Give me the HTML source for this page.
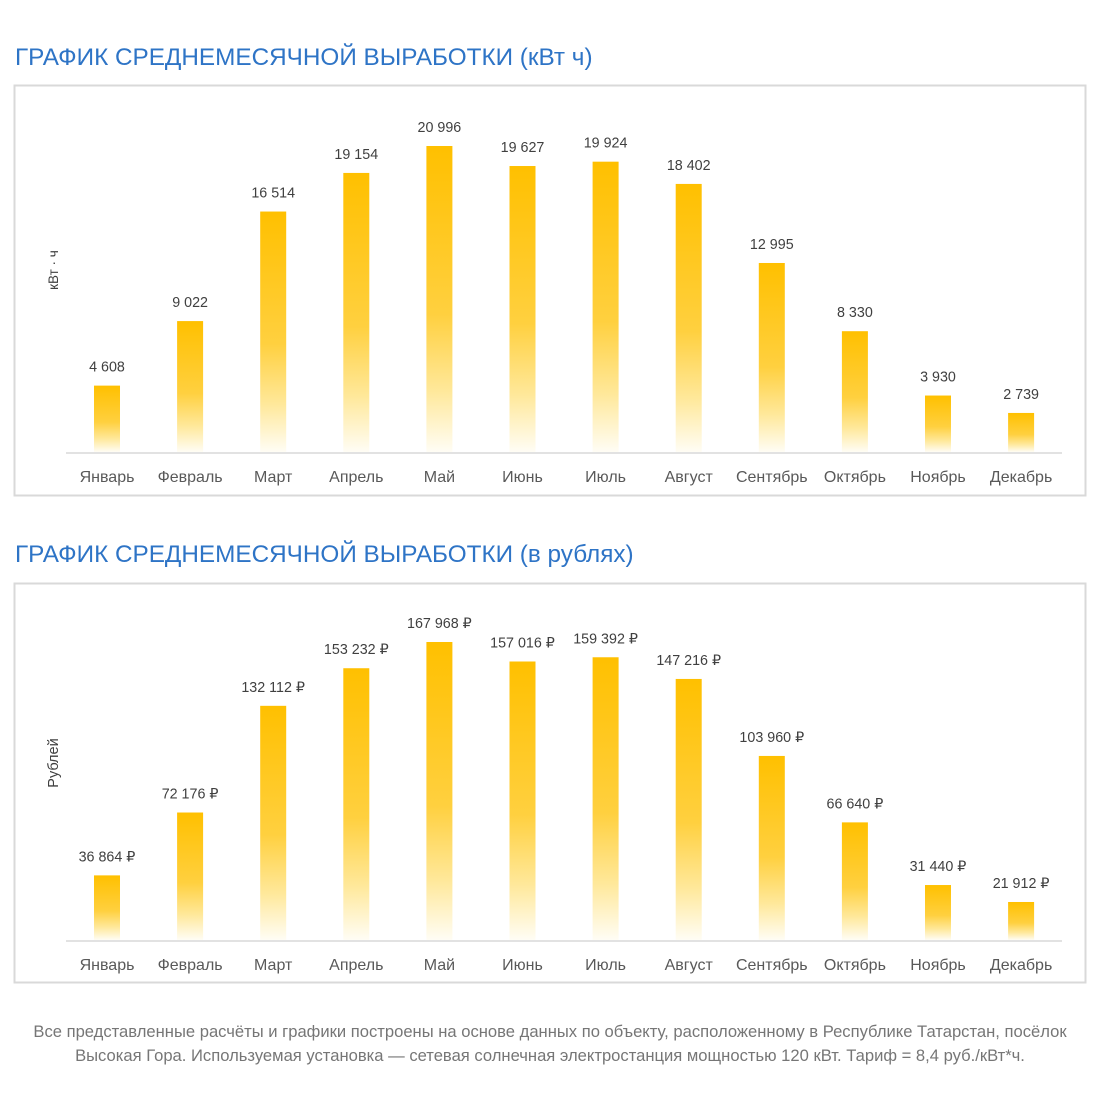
<!DOCTYPE html>
<html><head><meta charset="utf-8"><style>
body{margin:0;background:#fff;width:1100px;height:1100px;overflow:hidden}
svg text{font-family:"Liberation Sans","DejaVu Sans",sans-serif}
</style></head><body>
<svg width="1100" height="1100" xmlns="http://www.w3.org/2000/svg">
<defs>
<linearGradient id="g" x1="0" y1="0" x2="0" y2="1">
<stop offset="0" stop-color="#FFC000"/>
<stop offset="0.55" stop-color="#FFD03F"/>
<stop offset="0.8" stop-color="#FFE89A"/>
<stop offset="1" stop-color="#FFFDF5"/>
</linearGradient>
</defs>
<text x="15" y="65" font-size="24.3" fill="#2E74C6">ГРАФИК СРЕДНЕМЕСЯЧНОЙ ВЫРАБОТКИ (кВт ч)</text>
<rect x="14.5" y="85.5" width="1071" height="410" fill="#fff" stroke="#D9D9D9" stroke-width="2"/>
<line x1="66" y1="453" x2="1062" y2="453" stroke="#D9D9D9" stroke-width="1.5"/>
<text transform="translate(58,270) rotate(-90)" font-size="13.5" fill="#404040" text-anchor="middle">кВт · ч</text>
<g id="c1" font-size="14.3" fill="#404040" text-anchor="middle"></g>
<text x="15" y="562" font-size="24.3" fill="#2E74C6">ГРАФИК СРЕДНЕМЕСЯЧНОЙ ВЫРАБОТКИ (в рублях)</text>
<rect x="14.5" y="583.5" width="1071" height="399" fill="#fff" stroke="#D9D9D9" stroke-width="2"/>
<line x1="66" y1="941" x2="1062" y2="941" stroke="#D9D9D9" stroke-width="1.5"/>
<text transform="translate(58,763) rotate(-90)" font-size="14.5" fill="#404040" text-anchor="middle">Рублей</text>
<g id="c2" font-size="14.3" fill="#404040" text-anchor="middle"></g>
<text x="550" y="1037" font-size="16.6" fill="#767676" text-anchor="middle">Все представленные расчёты и графики построены на основе данных по объекту, расположенному в Республике Татарстан, посёлок</text>
<text x="550" y="1061" font-size="16.6" fill="#767676" text-anchor="middle">Высокая Гора. Используемая установка — сетевая солнечная электростанция мощностью 120 кВт. Тариф = 8,4 руб./кВт*ч.</text>
</svg>
<script>
var m=["Январь","Февраль","Март","Апрель","Май","Июнь","Июль","Август","Сентябрь","Октябрь","Ноябрь","Декабрь"];
var v=[4608,9022,16514,19154,20996,19627,19924,18402,12995,8330,3930,2739];
function f(n){return String(n).replace(/\B(?=(\d{3})+(?!\d))/g," ");}
function draw(id,base,k,suf){
 var g=document.getElementById(id),h="";
 for(var i=0;i<12;i++){
  var cx=107+i*83.1,val=v[i]*(suf?8:1),bh=val*k,top=base-bh;
  h+='<rect x="'+(cx-13)+'" y="'+top+'" width="26" height="'+(bh-1)+'" fill="url(#g)"/>';
  h+='<text x="'+cx+'" y="'+(top-14)+'">'+f(val)+(suf?" ₽":"")+'</text>';
  h+='<text x="'+cx+'" y="'+(base+29)+'" font-size="16" fill="#595959">'+m[i]+'</text>';
 }
 g.innerHTML=h;
}
draw("c1",453,307/20996,false);
draw("c2",941,299/167968,true);
</script>
</body></html>
